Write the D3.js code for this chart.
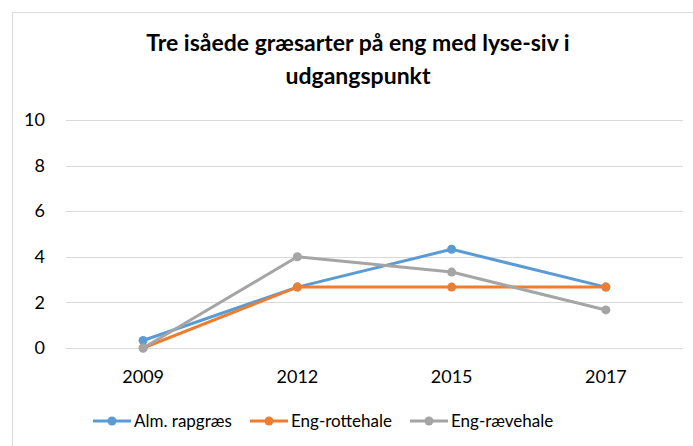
<!DOCTYPE html>
<html><head><meta charset="utf-8">
<script src="https://cdn.jsdelivr.net/npm/d3@7"></script>
<style>body{margin:0;background:#fff}svg{display:block}</style>
</head><body>
<svg id="c" width="693" height="446"></svg>
<script>
const titleLines = ["Tre isåede græsarter på eng med lyse-siv i", "udgangspunkt"];
const years = ["2009", "2012", "2015", "2017"];
const seriesNames = ["Alm. rapgræs", "Eng-rottehale", "Eng-rævehale"];
const almRapgraes = [0.33, 2.67, 4.33, 2.67];
const engRottehale = [0, 2.67, 2.67, 2.67];
const engRaevehale = [0, 4, 3.33, 1.67];
const yTicks = [0, 2, 4, 6, 8, 10];
const colors = ["#5B9BD5", "#ED7D31", "#A5A5A5"];

const series = [almRapgraes, engRottehale, engRaevehale].map((v, i) => ({name: seriesNames[i], values: v, color: colors[i]}));
const font = "Lato, 'Open Sans', sans-serif";
const svg = d3.select("#c");

svg.append("rect").attr("x", 12.5).attr("y", 12.5).attr("width", 720).attr("height", 460)
  .attr("fill", "#fff").attr("stroke", "#d9d9d9").attr("stroke-width", 1);

const x = d3.scaleBand().domain(years).range([66, 683]);
const y = d3.scaleLinear().domain([0, 10]).range([348, 120]);

// title
const t = svg.append("text").attr("text-anchor", "middle").attr("font-family", font)
  .attr("font-weight", "bold").attr("font-size", 23).attr("fill", "#000");
titleLines.forEach((l, i) => t.append("tspan").attr("x", 358).attr("y", 51 + i * 33).text(l));

// grid
svg.append("g").selectAll("line").data(yTicks).join("line")
  .attr("x1", 66).attr("x2", 683).attr("y1", d => Math.round(y(d)) + 0.5).attr("y2", d => Math.round(y(d)) + 0.5)
  .attr("stroke", "#d9d9d9").attr("stroke-width", 1);

// y axis labels
const ya = svg.append("g").attr("transform", "translate(45,0)")
  .call(d3.axisLeft(y).tickValues(yTicks).tickSize(0).tickPadding(0));
ya.select(".domain").remove();
ya.selectAll("text").attr("font-family", font).attr("font-size", 18).attr("fill", "#000");

// x axis labels
const xa = svg.append("g").attr("transform", "translate(0,366)")
  .call(d3.axisBottom(x).tickSize(0).tickPadding(0));
xa.select(".domain").remove();
xa.selectAll("text").attr("font-family", font).attr("font-size", 18).attr("fill", "#000").attr("dy", "0.95em");

const cx = d => x(d) + x.bandwidth() / 2;
const line = d3.line().x((d, i) => cx(years[i])).y(d => y(d));

series.forEach(s => {
  svg.append("path").datum(s.values).attr("d", line).attr("fill", "none")
    .attr("stroke", s.color).attr("stroke-width", 3).attr("stroke-linejoin", "round").attr("stroke-linecap", "round");
  svg.append("g").selectAll("circle").data(s.values).join("circle")
    .attr("cx", (d, i) => cx(years[i])).attr("cy", d => y(d)).attr("r", 4.5).attr("fill", s.color);
});

// legend
const legX = [93, 250, 410];
const lg = svg.append("g").selectAll("g").data(series).join("g")
  .attr("transform", (d, i) => `translate(${legX[i]},421)`);
lg.append("line").attr("x1", 0).attr("x2", 38).attr("stroke", d => d.color).attr("stroke-width", 3);
lg.append("circle").attr("cx", 19).attr("r", 4.5).attr("fill", d => d.color);
lg.append("text").attr("x", 41).attr("dy", "0.35em").attr("font-family", font).attr("font-size", 17)
  .attr("fill", "#000").text(d => d.name);
</script>
</body></html>
